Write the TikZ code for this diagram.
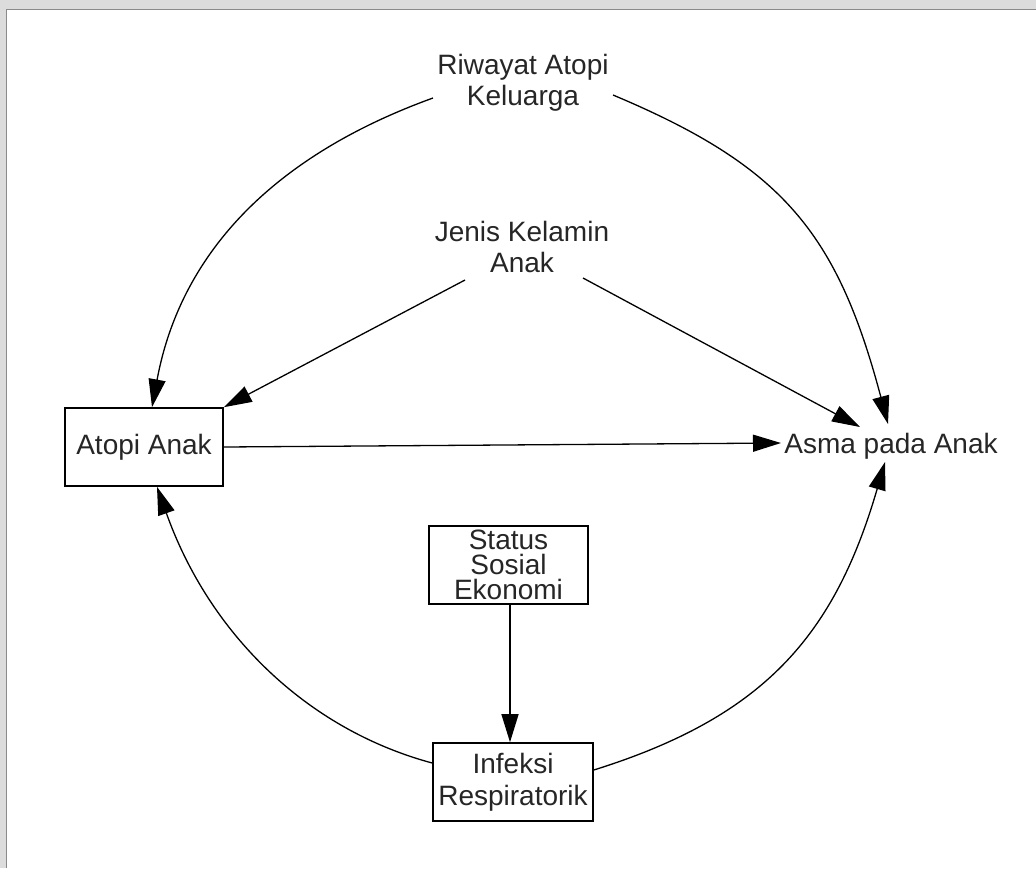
\documentclass[tikz,border=0pt]{standalone}
\usepackage{fontspec}
\setmainfont{Liberation Sans}
\usetikzlibrary{arrows.meta,calc}
\definecolor{bandgray}{HTML}{DCDCDC}
\definecolor{framegray}{HTML}{8A8A8A}
\definecolor{inkgray}{HTML}{262626}
\begin{document}
\begin{tikzpicture}[x=0.5pt,y=-0.5pt,
  every node/.style={font=\fontsize{14pt}{15.75pt}\selectfont, text=inkgray, inner sep=0pt},
  box/.style={draw=black, line width=0.8pt, inner sep=0pt},
  link/.style={draw=black, line width=0.65pt, -{Triangle[length=14pt,width=8.5pt]}}]
\useasboundingbox (0,0) rectangle (1036,868);
\fill[bandgray] (0,0) rectangle (1036,868);
\fill[white] (6.5,9.5) rectangle (1036,868);
\draw[framegray, line width=0.7pt] (6.5,868) -- (6.5,9.5) -- (1036,9.5);

\node[align=center] (riw) at (523,83) {Riwayat Atopi\\Keluarga};
\node[align=center] (jen) at (522,247) {Jenis Kelamin\\Anak};
\node[box, minimum width=79pt, minimum height=39pt] (atopi) at (144,447) {Atopi Anak};
\node (asma) at (891,446) {Asma pada Anak};
\node[box, align=center, minimum width=79.5pt, minimum height=39pt,
      font=\fontsize{14pt}{12.6pt}\selectfont] (stat) at (508.5,565) {Status\\Sosial\\Ekonomi};
\node[box, align=center, minimum width=80pt, minimum height=39pt] (inf) at (513,782) {Infeksi\\Respiratorik};

\draw[link] ($(riw)+(-90,15)$) .. controls (270,157) and (180,256) .. ($(atopi.north)+(8,0)$);
\draw[link] ($(riw)+(90,12)$) .. controls (782,166) and (837,232) .. ($(asma)+(-3,-22)$);
\draw[link] ($(jen)+(-57,33)$) -- (atopi.north east);
\draw[link] ($(jen)+(61,31)$) -- ($(asma)+(-31,-19)$);
\draw[link] (atopi.east) -- ($(asma.west)+(-3,-3)$);
\draw[link] ($(stat.south)+(1.5,0)$) -- ($(inf.north)+(-3,0)$);
\draw[link] ($(inf.west)+(0,-19)$) .. controls (306,729) and (209,633) .. ($(atopi.south)+(13,0)$);
\draw[link] ($(inf.east)+(0,-12)$) .. controls (763,717) and (834,637) .. ($(asma)+(-6,16)$);
\end{tikzpicture}
\end{document}
